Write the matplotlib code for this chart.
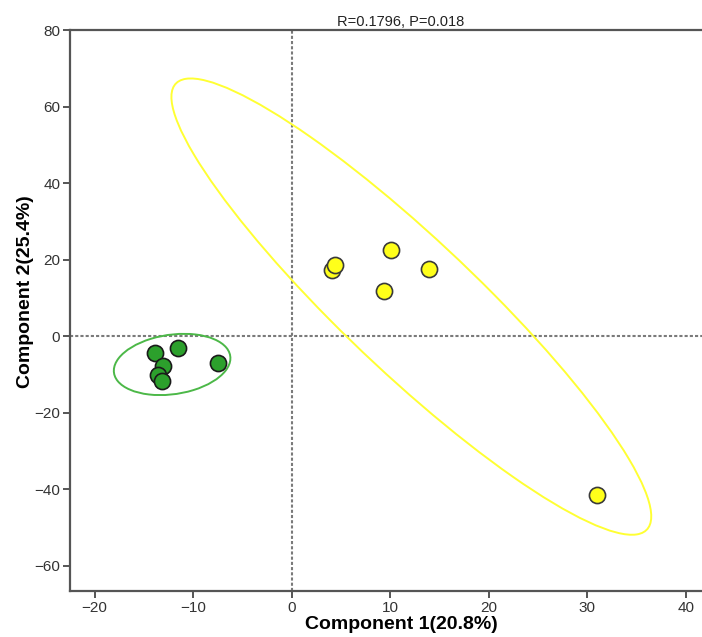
import numpy as np
import matplotlib
matplotlib.use("Agg")
import matplotlib.pyplot as plt
from matplotlib.patches import Ellipse

plt.rcParams['font.family'] = ['Liberation Sans', 'DejaVu Sans']

# group scores
green_x = [-13.9, -11.5, -13.1, -13.6, -13.2, -7.5]
green_y = [-4.5, -3.1, -7.8, -10.2, -11.7, -7.1]
yellow_x = [4.1, 4.4, 10.1, 9.4, 13.9, 31.0]
yellow_y = [17.4, 18.5, 22.6, 11.8, 17.5, -41.5]

x_ticks = [-20, -10, 0, 10, 20, 30, 40]
y_ticks = [-60, -40, -20, 0, 20, 40, 60, 80]
title_text = "R=0.1796, P=0.018"
x_label = "Component 1(20.8%)"
y_label = "Component 2(25.4%)"


def conf_ellipse(x, y, color):
    # 95% normal data ellipse from the points' covariance
    pts = np.column_stack([x, y])
    mean = pts.mean(axis=0)
    cov = np.cov(pts, rowvar=False)
    vals, vecs = np.linalg.eigh(cov)
    order = vals.argsort()[::-1]
    vals, vecs = vals[order], vecs[:, order]
    angle = np.degrees(np.arctan2(vecs[1, 0], vecs[0, 0]))
    r = np.sqrt(5.991464547)
    return Ellipse(mean, 2 * r * np.sqrt(vals[0]), 2 * r * np.sqrt(vals[1]),
                   angle=angle, fill=False, edgecolor=color, lw=1.4, zorder=2)


fig = plt.figure(figsize=(7.02, 6.37), dpi=100)
ax = fig.add_axes([0.0997, 0.0722, 0.943, 0.8807])

ax.axvline(0, color='#7a7a7a', lw=1.5, ls=(0, (1.5, 1.0)), zorder=1)
ax.axhline(0, color='#7a7a7a', lw=1.5, ls=(0, (1.5, 1.0)), zorder=1)

ax.add_patch(conf_ellipse(green_x, green_y, '#4cb848'))
ax.add_patch(conf_ellipse(yellow_x, yellow_y, '#ffff33'))

ax.scatter(green_x, green_y, s=135, c='#2ca02c', edgecolors='#1a1a1a', linewidths=1.2, zorder=3)
ax.scatter(yellow_x, yellow_y, s=135, c='#ffff1a', edgecolors='#3a3a3a', linewidths=1.2, zorder=3)

ax.set_xlim(-22.5, 44.7)
ax.set_ylim(-66.6, 80)
ax.set_xticks(x_ticks)
ax.set_yticks(y_ticks)
ax.set_xticklabels([str(t).replace('-', '\u2212') for t in x_ticks])
ax.set_yticklabels([str(t).replace('-', '\u2212') for t in y_ticks])

for side in ['left', 'bottom', 'top']:
    ax.spines[side].set_color('#555555')
    ax.spines[side].set_linewidth(1.6)
ax.spines['right'].set_visible(False)

ax.tick_params(direction='out', length=5, width=1.4, color='#555555',
               labelsize=11, labelcolor='#333333', pad=2)

ax.set_xlabel(x_label, fontsize=14, fontweight='bold', labelpad=1)
ax.set_ylabel(y_label, fontsize=14, fontweight='bold')
ax.yaxis.set_label_coords(-0.055, 0.534)
ax.set_title(title_text, fontsize=10.5, color='#222222', pad=3)

fig.savefig("out.png", dpi=100)
